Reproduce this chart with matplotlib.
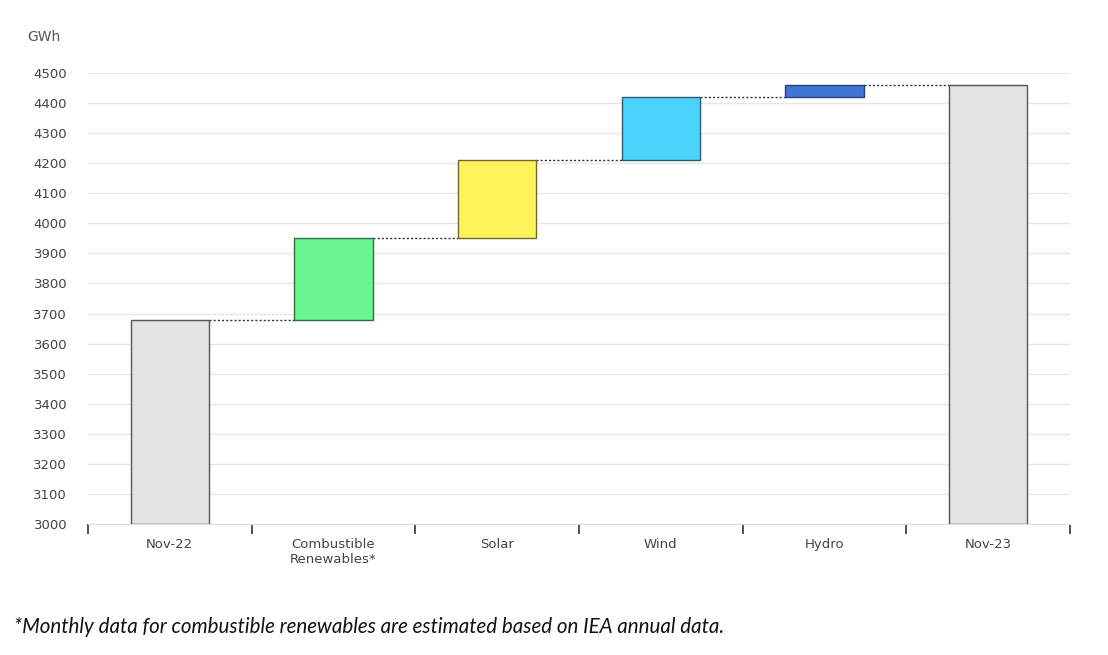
import matplotlib.pyplot as plt
import numpy as np

categories = ['Nov-22', 'Combustible\nRenewables*', 'Solar', 'Wind', 'Hydro', 'Nov-23']
start_value = 3678
changes = [273, 259, 210, 40]
end_value = 4460
colors = ['#e3e3e3', '#69f58f', '#fff35c', '#4ad4fc', '#3f76d4', '#e3e3e3']
edges = ['#555555', '#2f6b44', '#6b6a2c', '#2f5a6b', '#27417a', '#555555']

fig = plt.figure(figsize=(11.08, 6.55), dpi=100)
ax = fig.add_axes([0.0794, 0.2, 0.8863, 0.6885])

x = np.arange(len(categories))
width = 0.48
levels = np.cumsum([start_value] + changes)
bottoms = [3000] + list(levels[:-1]) + [3000]
heights = [start_value - 3000] + changes + [end_value - 3000]

ax.bar(x, heights, bottom=bottoms, width=width, color=colors,
       edgecolor=edges, linewidth=1, zorder=3)

# dotted connectors between bars
tops = list(levels) + [end_value]
for i in range(len(categories) - 1):
    ax.hlines(tops[i], x[i] + width / 2, x[i + 1] - width / 2,
              colors='#333333', linestyles=(0, (1.5, 1.5)), linewidth=1, zorder=2)

ax.set_xlim(-0.5, len(categories) - 0.5)
ax.set_ylim(3000, 4500)
ax.set_yticks(np.arange(3000, 4501, 100))
ax.grid(axis='y', color='#e6e6e6', linewidth=1, zorder=0)
ax.tick_params(axis='y', length=0, pad=15, labelsize=9.5, labelcolor='#444444')

ax.set_xticks(x)
ax.set_xticklabels(categories, fontsize=9.5, color='#444444')
ax.set_xticks(np.arange(-0.5, len(categories)), minor=True)
ax.tick_params(axis='x', which='major', length=0, pad=10)
ax.tick_params(axis='x', which='minor', length=7, width=1.2, color='#333333', direction='out')

for s in ['top', 'right', 'left']:
    ax.spines[s].set_visible(False)
ax.spines['bottom'].set_color('#dddddd')

fig.text(0.025, 0.943, 'GWh', fontsize=10, color='#555555', va='center')
fig.text(0.013, 0.042, '*Monthly data for combustible renewables are estimated based on IEA annual data.',
         fontsize=14.8, style='italic', family='Lato', color='#111111', va='center')

fig.savefig('out.png', dpi=100)
